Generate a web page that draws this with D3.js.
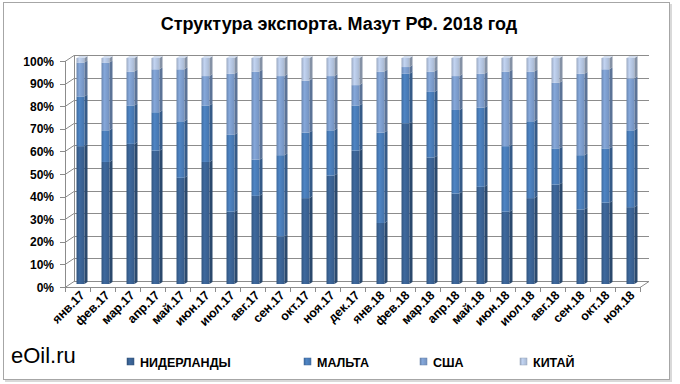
<!DOCTYPE html>
<html>
<head>
<meta charset="utf-8">
<script src="https://cdn.jsdelivr.net/npm/d3@7"></script>
<style>
  body { margin: 0; background: #fff; }
  text { font-family: "Liberation Sans", Arial, sans-serif; }
</style>
</head>
<body>
<div id="chart"></div>
<script>
var months = ['янв.17','фев.17','мар.17','апр.17','май.17','июн.17','июл.17','авг.17','сен.17','окт.17','ноя.17','дек.17',
  'янв.18','фев.18','мар.18','апр.18','май.18','июн.18','июл.18','авг.18','сен.18','окт.18','ноя.18']
var seriesNames = ['НИДЕРЛАНДЫ', 'МАЛЬТА', 'США', 'КИТАЙ']
var netherlands = [61, 54, 62, 59, 47, 54, 32, 39, 21, 38, 48, 59, 27, 71, 56, 40, 43, 32, 38, 44, 33, 36, 34]
var malta       = [22, 14, 17, 17, 25, 25, 34, 16, 36, 29, 20, 20, 40, 22, 29, 37, 35, 29, 34, 16, 24, 24, 34]
var usa         = [15, 30, 15, 19, 23, 13, 27, 39, 35, 23, 24,  9, 27,  3,  9, 15, 15, 33, 22, 29, 36, 35, 23]
var china       = [ 2,  2,  6,  5,  5,  8,  7,  6,  8, 10,  8, 12,  6,  4,  6,  8,  7,  6,  6, 11,  7,  5,  9]
var yTicks = [0, 0.1, 0.2, 0.3, 0.4, 0.5, 0.6, 0.7, 0.8, 0.9, 1]
var colors = ['#3b6496', '#4a7ebb', '#7e9fd0', '#b8c9e5']

var W = 680, H = 384
var dx = 9, dy = -6   // depth of the 3d floor/walls

var rows = months.map(function(m, i) {
  var r = {month: m}
  r[seriesNames[0]] = netherlands[i]
  r[seriesNames[1]] = malta[i]
  r[seriesNames[2]] = usa[i]
  r[seriesNames[3]] = china[i]
  return r
})

var stacked = d3.stack().keys(seriesNames).offset(d3.stackOffsetExpand)(rows)

var x = d3.scaleBand().domain(months).range([65, 640]).paddingInner(0.56).paddingOuter(0.28)
var y = d3.scaleLinear().domain([0, 1]).range([287, 61])

var svg = d3.select('#chart').append('svg').attr('width', W).attr('height', H)

// outer frame
svg.append('rect').attr('x', 5).attr('y', 4).attr('width', 667).attr('height', 378).attr('fill', '#d9d9d9')
svg.append('rect').attr('x', 3.5).attr('y', 2.5).attr('width', 666).attr('height', 377)
  .attr('fill', '#fff').attr('stroke', '#a6a6a6')

svg.append('text')
  .attr('x', 339).attr('y', 30)
  .attr('text-anchor', 'middle')
  .style('font-size', '18px').style('font-weight', 'bold')
  .text('Структура экспорта. Мазут РФ. 2018 год')

var defs = svg.append('defs')
colors.forEach(function(c, i) {
  var base = d3.color(c)
  var g = defs.append('linearGradient').attr('id', 'grad' + i).attr('x1', 0).attr('x2', 1).attr('y1', 0).attr('y2', 0)
  g.append('stop').attr('offset', '0%').attr('stop-color', base.darker(0.5))
  g.append('stop').attr('offset', '35%').attr('stop-color', base.brighter(0.15))
  g.append('stop').attr('offset', '100%').attr('stop-color', base.darker(0.25))
})

// walls and gridlines
var x0 = x.range()[0], x1 = x.range()[1]
var grid = svg.append('g').attr('stroke', '#8c8c8c').attr('stroke-width', 1).attr('fill', 'none')
yTicks.forEach(function(t) {
  var yy = Math.round(y(t)) + 0.5
  grid.append('line').attr('x1', x0 + dx).attr('x2', x1 + dx).attr('y1', yy + dy).attr('y2', yy + dy)
  grid.append('line').attr('x1', x0).attr('x2', x0 + dx).attr('y1', yy).attr('y2', yy + dy)
  grid.append('line').attr('x1', x0 - 5).attr('x2', x0).attr('y1', yy).attr('y2', yy)
})
grid.append('line').attr('x1', x0 + dx + 0.5).attr('x2', x0 + dx + 0.5).attr('y1', y(1) + dy).attr('y2', y(0) + dy)
grid.append('line').attr('x1', x0 + 0.5).attr('x2', x0 + 0.5).attr('y1', y(1)).attr('y2', y(0))
// floor front edge and right slant
grid.append('line').attr('x1', x0).attr('x2', x1).attr('y1', Math.round(y(0)) + 0.5).attr('y2', Math.round(y(0)) + 0.5)
grid.append('line').attr('x1', x1).attr('x2', x1 + dx).attr('y1', Math.round(y(0)) + 0.5).attr('y2', Math.round(y(0)) + 0.5 + dy)
// category ticks
months.forEach(function(m, i) {
  var xx = Math.round(x0 + i * x.step()) + 0.5
  grid.append('line').attr('x1', xx).attr('x2', xx).attr('y1', y(0)).attr('y2', y(0) + 5)
})
grid.append('line').attr('x1', x1 + 0.5).attr('x2', x1 + 0.5).attr('y1', y(0)).attr('y2', y(0) + 5)

// y labels
svg.append('g').selectAll('text').data(yTicks).enter().append('text')
  .attr('x', 54).attr('y', function(d) { return y(d) + 4.5 })
  .attr('text-anchor', 'end')
  .style('font-size', '12px').style('font-weight', 'bold')
  .text(function(d) { return Math.round(d * 100) + '%' })

// bars (placed at mid depth)
var ox = dx / 2, oy = dy / 2
var side = 3
var bw = x.bandwidth() - side
var barG = svg.append('g')
stacked.forEach(function(layer, si) {
  var g = barG.append('g')
  g.selectAll('rect').data(layer).enter().append('rect')
    .attr('x', function(d) { return x(d.data.month) + ox })
    .attr('y', function(d) { return y(d[1]) + oy })
    .attr('width', bw)
    .attr('height', function(d) { return y(d[0]) - y(d[1]) })
    .attr('fill', 'url(#grad' + si + ')')
  g.selectAll('path').data(layer).enter().append('path')
    .attr('d', function(d) {
      var xr = x(d.data.month) + ox + bw
      var yt = y(d[1]) + oy, yb = y(d[0]) + oy
      return 'M' + xr + ',' + yt + 'L' + (xr + side) + ',' + (yt - 2) + 'L' + (xr + side) + ',' + (yb - 2) + 'L' + xr + ',' + yb + 'Z'
    })
    .attr('fill', d3.color(colors[si]).darker(0.9))
})
// top caps
barG.selectAll('.cap').data(rows).enter().append('path')
  .attr('class', 'cap')
  .attr('d', function(d) {
    var xl = x(d.month) + ox, yt = y(1) + oy
    return 'M' + xl + ',' + yt + 'L' + (xl + side) + ',' + (yt - 2) + 'L' + (xl + bw + side) + ',' + (yt - 2) + 'L' + (xl + bw) + ',' + yt + 'Z'
  })
  .attr('fill', '#d3deef')

// x labels
svg.append('g').selectAll('text').data(months).enter().append('text')
  .attr('transform', function(d) {
    return 'translate(' + (x(d) + x.bandwidth() / 2 + 8) + ',' + 296 + ') rotate(-45)'
  })
  .attr('text-anchor', 'end')
  .style('font-size', '12.5px').style('font-weight', 'bold')
  .text(function(d) { return d })

// eOil.ru
svg.append('text').attr('x', 11).attr('y', 363)
  .style('font-size', '22px').style('fill', '#000')
  .text('eOil.ru')

// legend
var legendX = [127, 304, 420, 520]
var legend = svg.append('g').selectAll('g').data(seriesNames).enter().append('g')
  .attr('transform', function(d, i) { return 'translate(' + legendX[i] + ',' + 362 + ')' })
legend.append('rect').attr('x', 0).attr('y', -4).attr('width', 7).attr('height', 7)
  .attr('fill', function(d, i) { return 'url(#grad' + i + ')' })
  .attr('stroke', function(d, i) { return d3.color(colors[i]).darker(0.6) }).attr('stroke-width', 0.5)
legend.append('text').attr('x', 13).attr('y', 4.5)
  .style('font-size', '12.5px').style('font-weight', 'bold')
  .text(function(d) { return d })
</script>
</body>
</html>
